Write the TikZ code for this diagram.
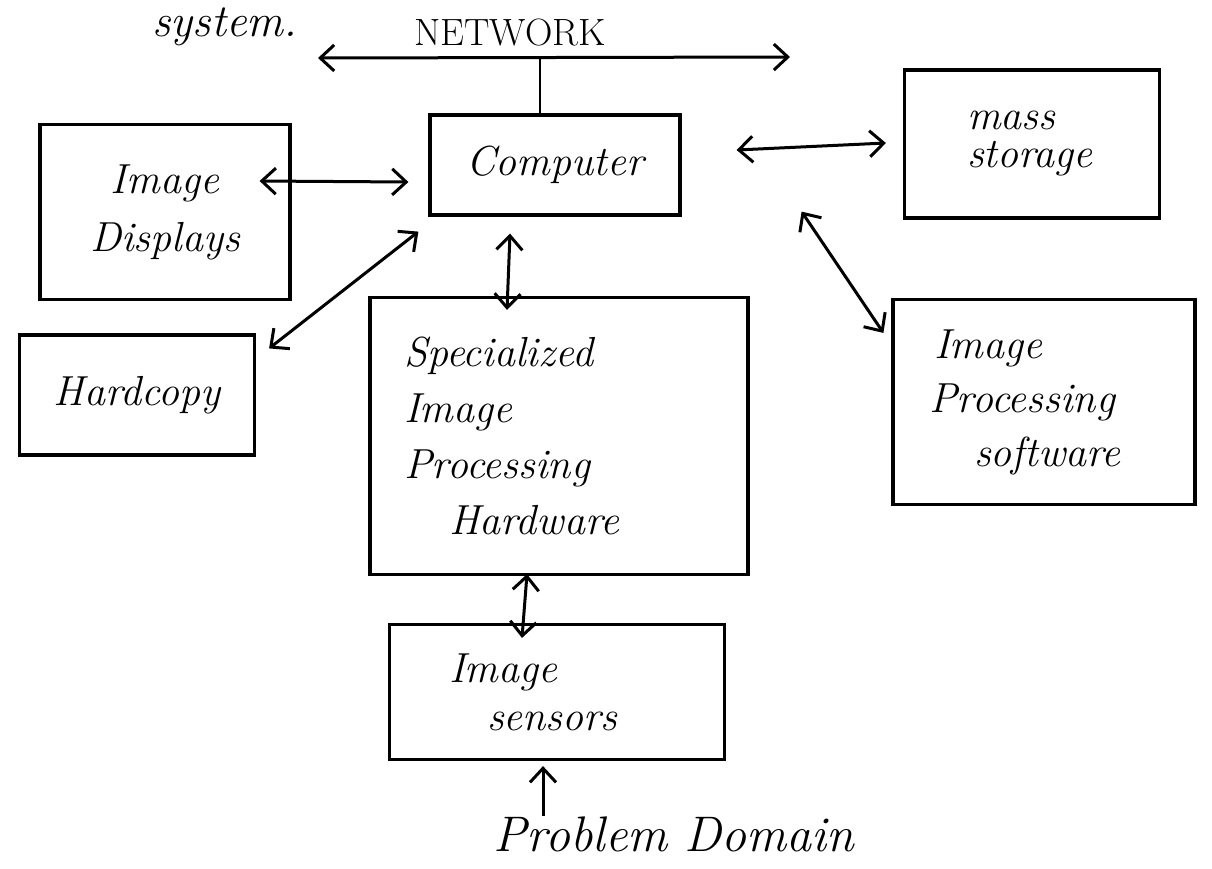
\documentclass[tikz,border=0pt]{standalone}
\usetikzlibrary{arrows.meta,calc}
\begin{document}
\begin{tikzpicture}[x=1pt,y=-1pt,
  every node/.style={inner sep=0pt},
  blk/.style={draw, line width=3.2pt, minimum width=#1},
  hand/.style={font=\fontsize{42}{56}\selectfont\itshape},
  link/.style={line width=3pt, {Straight Barb[length=14pt,width=26pt,line width=3pt]}-{Straight Barb[length=14pt,width=26pt,line width=3pt]}},
  onearrow/.style={line width=3pt, -{Straight Barb[length=14pt,width=26pt,line width=3pt]}}]
\useasboundingbox (0,0) rectangle (1212,868);
\fill[white] (0,0) rectangle (1212,868);

% boxes
\node[blk=250pt, minimum height=175pt, hand, align=center] (disp) at (165,212) {Image\\[2pt]Displays};
\node[blk=250pt, minimum height=100pt, hand] (comp) at (555,165) {Computer};
\node[blk=255pt, minimum height=148pt, hand, align=left, text width=190pt] (mass) at (1032,144) {\hspace*{30pt}mass\\[-18pt]\hspace*{30pt}storage};
\node[blk=235pt, minimum height=120pt, hand] (hard) at (137,395) {Hardcopy};
\node[blk=378pt, minimum height=277pt, hand, align=left, text width=310pt] (hw) at (559,436) {Specialized\\Image\\Processing\\\hspace*{45pt}Hardware};
\node[blk=302pt, minimum height=205pt, hand, align=left, text width=250pt] (sw) at (1044,402) {\hspace*{15pt}Image\\[-2pt]\hspace*{10pt}Processing\\[-2pt]\hspace*{55pt}software};
\node[blk=335pt, minimum height=135pt, hand, align=left, text width=220pt] (sens) at (557,692) {\hspace*{2pt}Image\\[-8pt]\hspace*{40pt}sensors};

% free texts
\node[font=\fontsize{50}{56}\selectfont\itshape] (prob) at (674,834) {Problem Domain};
\node[font=\fontsize{38}{44}\selectfont] (netlabel) at (510,33) {NETWORK};
\node[font=\fontsize{46}{50}\selectfont\itshape] (sys) at (225,27) {system.};

% network
\coordinate (netL) at (318,58);
\coordinate (netR) at (790,57);
\draw[link] (netL) -- (netR);
\coordinate (tap) at ($(netL)!0.47!(netR)$);
\draw[line width=2.4pt] (tap) -- (tap |- comp.north);

% connectors
\draw[link] ([xshift=-32pt,yshift=31pt]disp.east) -- ([xshift=-20pt,yshift=-17pt]comp.west);
\draw[link] ([xshift=13pt,yshift=-15pt]hard.north east) -- ([xshift=-10pt,yshift=-15pt]comp.south west);
\draw[link] ([xshift=-45pt,yshift=-17pt]comp.south) -- ([xshift=-52pt,yshift=-14pt]hw.north);
\draw[link] ([xshift=55pt,yshift=15pt]comp.east) -- ([xshift=-17pt,yshift=1pt]mass.west);
\draw[link] ([xshift=120pt,yshift=5pt]comp.south east) -- ([xshift=-8pt,yshift=-35pt]sw.north west);
\draw[link] ([xshift=-32pt,yshift=2pt]hw.south) -- ([xshift=-35pt,yshift=-15pt]sens.south |- sens.north);
\draw[onearrow] (prob.north -| {$(sens.south)+(-14,0)$}) -- ([xshift=-14pt,yshift=-5pt]sens.south);
\end{tikzpicture}
\end{document}
